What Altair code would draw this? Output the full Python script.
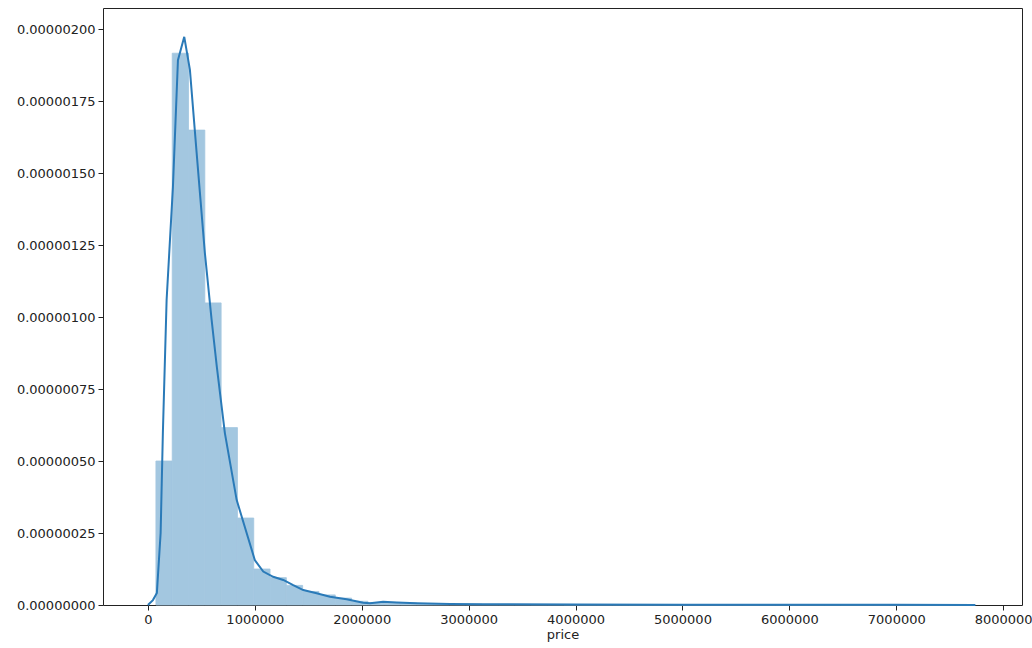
import altair as alt
import pandas as pd

# ---- data ----
price_min = 75000
bin_width = 152500
density = [0.50, 1.916, 1.649, 1.049, 0.616, 0.302, 0.125, 0.095, 0.068, 0.047,
           0.035, 0.024, 0.013, 0.008, 0.009, 0.007, 0.005, 0.004, 0.003, 0.003,
           0.002, 0.002, 0.002, 0.0015, 0.0015, 0.001, 0.001, 0.001, 0.001, 0.0008,
           0.0008, 0.0008, 0.0006, 0.0006, 0.0006, 0.0006, 0.0005, 0.0005, 0.0005, 0.0004,
           0.0004, 0.0004, 0.0004, 0.0003, 0.0003, 0.0003, 0.0003, 0.0003, 0.0002, 0.0005]

kde_x = [0.0, 0.047, 0.084, 0.119, 0.14, 0.175, 0.234, 0.281, 0.34, 0.393, 0.456,
         0.533, 0.596, 0.645, 0.72, 0.83, 1.0, 1.079, 1.172, 1.266, 1.359, 1.453,
         1.578, 1.703, 1.859, 2.014, 2.077, 2.2, 2.327, 2.514, 2.825, 3.13, 4.0,
         5.0, 6.0, 7.0, 7.74]
kde_y = [0.0, 0.017, 0.042, 0.25, 0.597, 1.059, 1.451, 1.892, 1.973, 1.858, 1.569,
         1.222, 0.99, 0.826, 0.597, 0.365, 0.156, 0.116, 0.098, 0.087, 0.069, 0.052,
         0.041, 0.029, 0.020, 0.008, 0.006, 0.011, 0.009, 0.006, 0.0035, 0.0025, 0.0015,
         0.001, 0.0008, 0.0005, 0.0003]

x_ticks = [0, 1000000, 2000000, 3000000, 4000000, 5000000, 6000000, 7000000, 8000000]
y_ticks = [0, 0.00000025, 0.0000005, 0.00000075, 0.000001, 0.00000125, 0.0000015,
           0.00000175, 0.000002]

# ---- tables ----
bars = pd.DataFrame({
    "start": [price_min + i * bin_width for i in range(len(density))],
    "end": [price_min + (i + 1) * bin_width for i in range(len(density))],
    "density": [d * 1e-6 for d in density],
    "base": [0.0] * len(density),
})
kde = pd.DataFrame({"price": [v * 1e6 for v in kde_x], "density": [v * 1e-6 for v in kde_y]})

xscale = alt.Scale(domain=[-420000, 8176000], nice=False, zero=False)
yscale = alt.Scale(domain=[0, 2.073e-6], nice=False, zero=True)

xaxis = alt.Axis(values=x_ticks, format="d", title="price", grid=False, domain=False,
                 tickColor="#222", tickSize=5, labelPadding=3, titlePadding=2)
yaxis = alt.Axis(values=y_ticks, format=".8f", title=None, grid=False, domain=False,
                 tickColor="#222", tickSize=5, labelPadding=3)

hist = alt.Chart(bars).mark_bar(color="#a3c7e0", stroke="#a3c7e0", strokeWidth=0.8).encode(
    x=alt.X("start:Q", scale=xscale, axis=xaxis),
    x2="end:Q",
    y=alt.Y("density:Q", scale=yscale, axis=yaxis),
    y2="base:Q",
)

line = alt.Chart(kde).mark_line(color="#2a7ab8", strokeWidth=2).encode(
    x=alt.X("price:Q", scale=xscale),
    y=alt.Y("density:Q", scale=yscale),
)

chart = (hist + line).properties(
    width=919, height=597,
    autosize=alt.AutoSizeParams(type="none"),
    padding={"left": 103, "top": 8, "right": 10, "bottom": 43},
    background="white",
).configure_view(stroke="#222", strokeWidth=1).configure_axis(
    labelFont="DejaVu Sans", labelFontSize=13, labelColor="#222",
    titleFont="DejaVu Sans", titleFontSize=13, titleColor="#222", titleFontWeight="normal",
)

chart.save("out.html", embed_options={"renderer": "svg", "actions": False})
